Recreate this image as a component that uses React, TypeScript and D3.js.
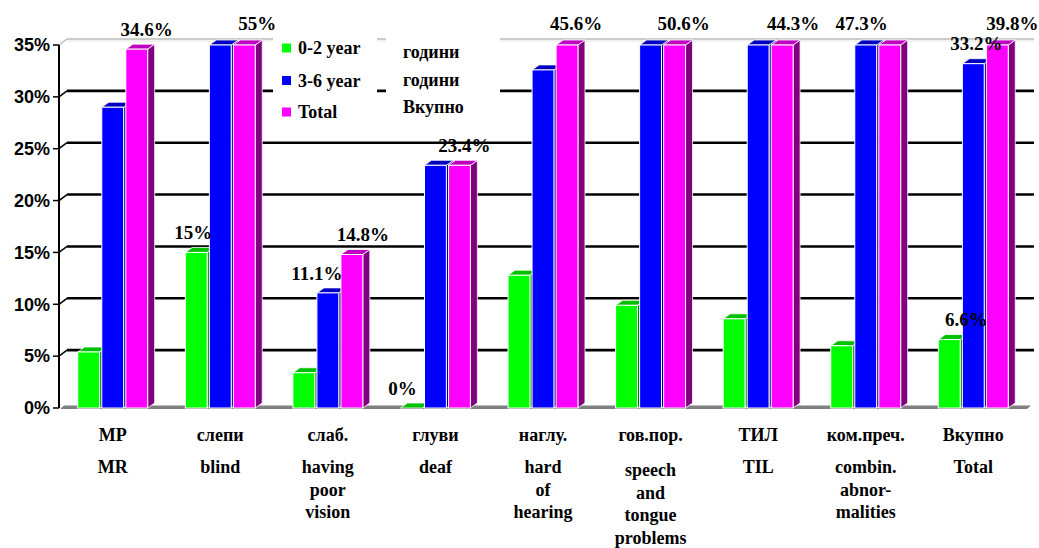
import React from "react";
import * as d3 from "d3";

// categories (Macedonian / English)
const categoriesMk = ["МР", "слепи", "слаб.", "глуви", "наглу.", "гов.пор.", "ТИЛ", "ком.преч.", "Вкупно"];
const categoriesEn = [
  ["MR"],
  ["blind"],
  ["having", "poor", "vision"],
  ["deaf"],
  ["hard", "of", "hearing"],
  ["speech", "and", "tongue", "problems"],
  ["TIL"],
  ["combin.", "abnor-", "malities"],
  ["Total"],
];

// series values in %, the axis stops at 35% so taller bars are cut there
const age02 = [5.4, 15, 3.4, 0, 12.8, 9.9, 8.6, 6.0, 6.6];
const age36 = [29.0, 62.0, 11.1, 23.4, 32.6, 58.0, 52.0, 55.0, 33.2];
const total = [34.6, 55, 14.8, 23.4, 45.6, 50.6, 44.3, 47.3, 39.8];

const seriesNames = ["0-2 year", "3-6 year", "Total"];
const seriesNamesMk = ["години", "години", "Вкупно"];
const yTicks = [0, 5, 10, 15, 20, 25, 30, 35];

// which bars carry a value label: [series, category]
const labelledBars: [number, number][] = [
  [2, 0], [2, 1], [2, 2], [2, 3], [2, 4], [2, 5], [2, 6], [2, 7], [2, 8],
  [0, 1], [0, 3], [0, 8],
  [1, 2], [1, 8],
];
// horizontal nudges of those labels, same order
const labelNudge = [10, 13, 11, 5, 9, 9, 11, -28, 15, -3, -9, 17, -11, 3];

const faceColors = ["#00ff00", "#0000ff", "#ff00ff"];
const topColors = ["#00c000", "#0000c0", "#c000c0"];
const sideColors = ["#008000", "#000080", "#800080"];

const serif = '"Liberation Serif", "Times New Roman", serif';
const sans = '"Liberation Sans", Arial, sans-serif';

export default function App() {
  const W = 1039;
  const H = 548;
  const series = [age02, age36, total];
  const maxV = 35;

  const y = d3.scaleLinear().domain([0, maxV]).range([408, 45]);
  const x0 = d3.scaleBand<string>().domain(categoriesMk).range([60, 1026]).paddingInner(0.35).paddingOuter(0.165);
  const x1 = d3.scaleBand<number>().domain([0, 1, 2]).range([0, x0.bandwidth()]).paddingInner(0.09);

  // 3d offsets
  const dx = 7, dy = 5;
  const wx = 8, wy = 6;
  const base = y(0);
  const left = 59;
  const right = 1026;

  const fmt = (v: number) => `${+v.toFixed(1)}%`;
  const serifStyle = { fontFamily: serif, fontWeight: "bold" as const };

  return (
    <svg width={W} height={H} style={{ position: "absolute", left: 0, top: 0, background: "#fff" }}>
      {/* floor edge */}
      <polygon
        points={`${left + 1},${base + 1} ${right + 1},${base + 1} ${right + 5},${base - 2.5} ${left + 5},${base - 2.5}`}
        fill="#808080"
      />
      {/* back wall top */}
      <line x1={left} y1={y(maxV)} x2={left + wx} y2={y(maxV) - wy} stroke="#bbb" strokeWidth={1.5} />
      <line x1={left + wx} y1={y(maxV) - wy} x2={right + wx} y2={y(maxV) - wy} stroke="#bbb" strokeWidth={1.5} />
      <line x1={left + wx} y1={y(maxV) - wy + 2} x2={right + wx} y2={y(maxV) - wy + 2} stroke="#e4e4e4" strokeWidth={1} />

      {/* grid lines on back wall */}
      {yTicks.filter(t => t > 0 && t < maxV).map(t => (
        <g key={t}>
          <line x1={left} y1={y(t)} x2={left + wx} y2={y(t) - wy} stroke="#000" strokeWidth={1.5} />
          <line x1={left + wx} y1={y(t) - wy} x2={right + wx} y2={y(t) - wy} stroke="#000" strokeWidth={2.6} />
        </g>
      ))}

      {/* y axis */}
      <line x1={left} y1={y(maxV)} x2={left} y2={base} stroke="#000" strokeWidth={2} />
      {yTicks.map(t => (
        <g key={t}>
          <line x1={left - 6} y1={y(t)} x2={left} y2={y(t)} stroke="#000" strokeWidth={1.5} />
          <text x={50} y={y(t)} dy="0.35em" textAnchor="end" style={{ fontFamily: sans, fontWeight: "bold", fontSize: 18 }}>
            {t}%
          </text>
        </g>
      ))}

      {/* legend */}
      <rect x={273} y={33} width={104} height={95} fill="#fff" />
      <rect x={386} y={33} width={114} height={95} fill="#fff" />
      {seriesNames.map((s, i) => {
        const ly = [48, 80.5, 112][i];
        return (
          <g key={s}>
            <rect x={282} y={ly - 4.5} width={9} height={9} fill={faceColors[i]} />
            <text x={298} y={ly} dy="0.35em" style={{ ...serifStyle, fontSize: 18 }}>{s}</text>
          </g>
        );
      })}
      {seriesNamesMk.map((s, i) => (
        <text key={i} x={403} y={[51.5, 80, 107][i]} dy="0.35em" style={{ ...serifStyle, fontSize: 18 }}>
          {s}
        </text>
      ))}

      {/* bars */}
      {categoriesMk.map((c, ci) => (
        <g key={c} transform={`translate(${x0(c)},0)`}>
          {series.map((vals, si) => {
            const v = Math.min(vals[ci], maxV);
            const bx = x1(si)!;
            const bw = x1.bandwidth();
            const yt = y(v);
            return (
              <g key={si}>
                <polygon
                  points={`${bx + bw},${yt} ${bx + bw + dx},${yt - dy} ${bx + bw + dx},${base - dy} ${bx + bw},${base}`}
                  fill={sideColors[si]}
                  stroke="#fff"
                  strokeWidth={0.8}
                />
                <polygon
                  points={`${bx},${yt} ${bx + dx},${yt - dy} ${bx + bw + dx},${yt - dy} ${bx + bw},${yt}`}
                  fill={topColors[si]}
                  stroke="#fff"
                  strokeWidth={0.8}
                />
                {v > 0 && (
                  <rect x={bx} y={yt} width={bw} height={base - yt} fill={faceColors[si]} stroke="#fff" strokeWidth={1} />
                )}
              </g>
            );
          })}
        </g>
      ))}

      {/* value labels */}
      {labelledBars.map(([si, ci], k) => {
        const v = series[si][ci];
        const cx = x0(categoriesMk[ci])! + x1(si)! + x1.bandwidth() / 2 + labelNudge[k];
        const cy = y(Math.min(v, maxV)) - (v >= maxV ? 22 : 20);
        return (
          <text key={k} x={cx} y={cy} dy="0.35em" textAnchor="middle" style={{ ...serifStyle, fontSize: 19 }}>
            {fmt(v)}
          </text>
        );
      })}

      {/* category labels */}
      {categoriesMk.map((c, ci) => {
        const cx = x0(c)! + x0.bandwidth() / 2;
        return (
          <g key={c} textAnchor="middle" style={{ ...serifStyle, fontSize: 18 }}>
            <text x={cx} y={435} dy="0.35em">{c}</text>
            {categoriesEn[ci].map((line, li) => (
              <text key={li} x={cx} y={(ci === 5 ? 470 : 467) + li * 22.5} dy="0.35em">{line}</text>
            ))}
          </g>
        );
      })}
    </svg>
  );
}
